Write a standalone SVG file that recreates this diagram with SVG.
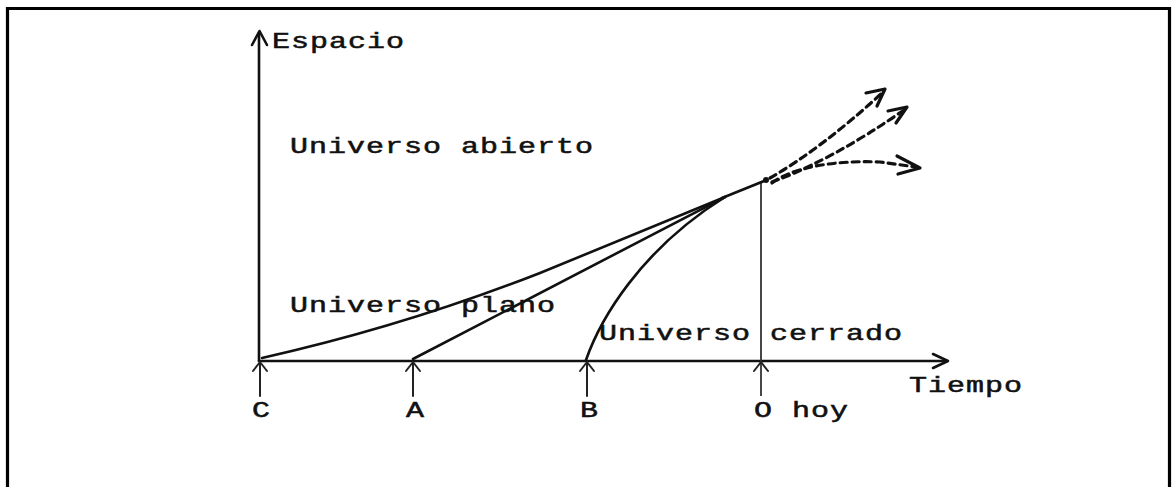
<svg xmlns="http://www.w3.org/2000/svg" width="1172" height="487" viewBox="0 0 1172 487">
<style>
.t{font-family:"Liberation Mono","DejaVu Sans Mono",monospace;font-size:30px;letter-spacing:1px;fill:#111;stroke:#111;stroke-width:0.7}
.ln{fill:none;stroke:#111;stroke-width:2.6;stroke-linecap:round;stroke-linejoin:round}
.tk{fill:none;stroke:#222;stroke-width:2;stroke-linecap:round;stroke-linejoin:round}
.ds{fill:none;stroke:#111;stroke-width:3.2;stroke-dasharray:7 5;stroke-linecap:round}
.ah{fill:none;stroke:#111;stroke-width:3.2;stroke-linecap:round;stroke-linejoin:round}
</style>
<rect width="1172" height="487" fill="#fff"/>
<path d="M7.5,487 V8.5 H1169.5 V487" fill="none" stroke="#000" stroke-width="3.2"/>

<g id="connectors">
  <line class="ln" x1="259" y1="33" x2="259" y2="361"/>
  <polyline class="ln" points="252,45 259.5,31 267,45"/>
  <line class="ln" x1="259" y1="361" x2="947" y2="361"/>
  <polyline class="ln" points="933,354 948,361 933,368"/>
  <line class="tk" x1="260" y1="362" x2="260" y2="396"/>
  <polyline class="tk" points="253,371 260,362 267,371"/>
  <line class="tk" x1="413" y1="362" x2="413" y2="396"/>
  <polyline class="tk" points="406,371 413,362 420,371"/>
  <line class="tk" x1="587" y1="362" x2="587" y2="396"/>
  <polyline class="tk" points="580,371 587,362 594,371"/>
  <line x1="761" y1="182" x2="761" y2="396" stroke="#333" stroke-width="1.8"/>
  <polyline class="tk" points="754,371 761,362 768,371"/>
  <path class="ln" d="M262,358 C320,345 420,320 540,273 L725,197"/>
  <path class="ln" d="M413,359 C470,330 600,262 725,197"/>
  <path class="ln" d="M586,360 C600,320 640,250 725,197"/>
  <path class="ln" d="M722,198 L764,181" stroke-width="3.5"/>
  <circle cx="766" cy="180" r="3" fill="#111"/>
  <path class="ds" d="M770,178 Q822,148 882,93"/>
  <polyline class="ah" points="866,93 885,89 877,106"/>
  <path class="ds" d="M772,182 Q832,160 904,110"/>
  <polyline class="ah" points="888,111 907,107 896,123"/>
  <path class="ds" d="M772,183 C792,168 832,160 880,162 L916,167"/>
  <polyline class="ah" points="897,156 920,168 898,174"/>
</g>

<g id="label-espacio"><text class="t" transform="translate(272,48) scale(1,0.75)">Espacio</text></g>
<g id="label-abierto"><text class="t" transform="translate(290,153) scale(1,0.75)">Universo abierto</text></g>
<g id="label-plano"><text class="t" transform="translate(290,312) scale(1,0.75)">Universo plano</text></g>
<g id="label-cerrado"><text class="t" transform="translate(599,340) scale(1,0.75)">Universo cerrado</text></g>
<g id="label-tiempo"><text class="t" transform="translate(909,392) scale(1,0.75)">Tiempo</text></g>
<g id="label-C"><text class="t" transform="translate(252,417) scale(1,0.75)">C</text></g>
<g id="label-A"><text class="t" transform="translate(406,417) scale(1,0.75)">A</text></g>
<g id="label-B"><text class="t" transform="translate(580,417) scale(1,0.75)">B</text></g>
<g id="label-O"><text class="t" transform="translate(754,417) scale(1,0.75)">O hoy</text></g>
</svg>
